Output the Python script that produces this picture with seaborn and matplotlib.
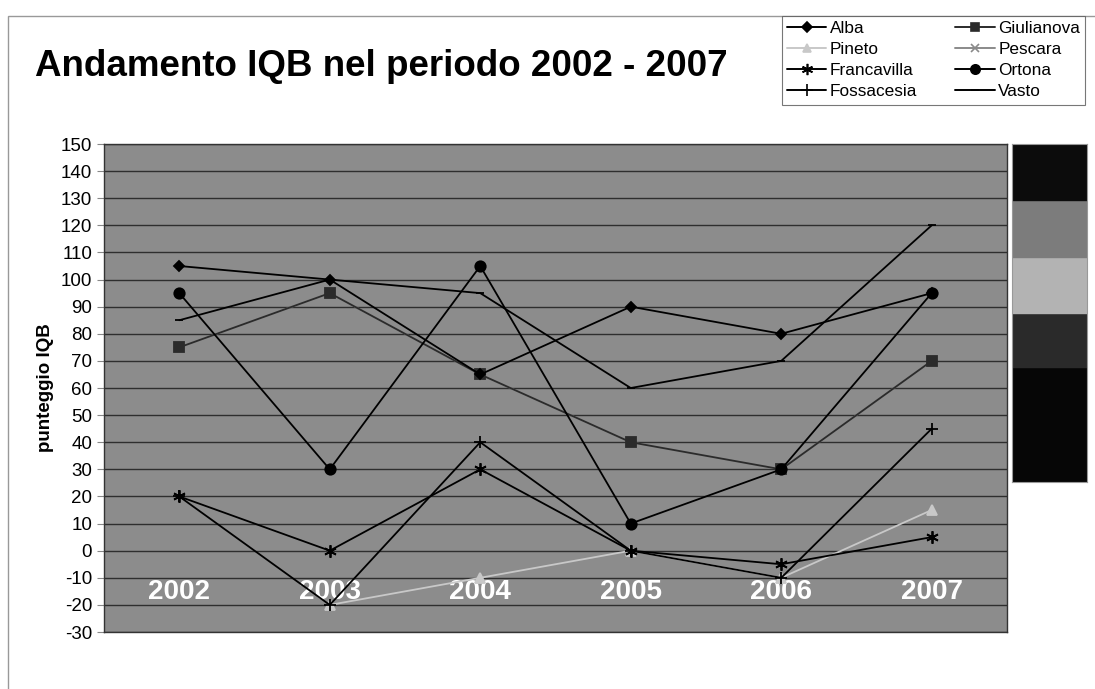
import numpy as np
import pandas as pd
import seaborn as sns
import matplotlib.pyplot as plt
from matplotlib.lines import Line2D
from matplotlib.patches import Rectangle

# valori (punteggio IQB)
years = ['2002', '2003', '2004', '2005', '2006', '2007']
alba = [105, 100, 65, 90, 80, 95]
giulianova = [75, 95, 65, 40, 30, 70]
pineto = [np.nan, -20, -10, 0, -10, 15]
pescara = [75, 95, 65, 40, 30, 70]
francavilla = [20, 0, 30, 0, -5, 5]
ortona = [95, 30, 105, 10, 30, 95]
fossacesia = [20, -20, 40, 0, -10, 45]
vasto = [85, 100, 95, 60, 70, 120]

series = {
    'Alba': alba, 'Giulianova': giulianova, 'Pineto': pineto, 'Pescara': pescara,
    'Francavilla': francavilla, 'Ortona': ortona, 'Fossacesia': fossacesia, 'Vasto': vasto,
}

colors = {
    'Alba': '#000000', 'Giulianova': '#2b2b2b', 'Pineto': '#c8c8c8', 'Pescara': '#8a8a8a',
    'Francavilla': '#000000', 'Ortona': '#000000', 'Fossacesia': '#000000', 'Vasto': '#000000',
}
markers = {
    'Alba': 'D', 'Giulianova': 's', 'Pineto': '^', 'Pescara': 'x',
    'Francavilla': (6, 2, 0), 'Ortona': 'o', 'Fossacesia': '+', 'Vasto': '_',
}
msizes = {
    'Alba': 5.5, 'Giulianova': 6.5, 'Pineto': 7, 'Pescara': 7,
    'Francavilla': 9, 'Ortona': 7.5, 'Fossacesia': 9, 'Vasto': 6,
}

df = pd.DataFrame([
    {'anno': y, 'sito': s, 'IQB': v}
    for s, vals in series.items() for y, v in zip(years, vals)
])

sns.set_style('white')
plt.rcParams['font.family'] = ['Liberation Sans', 'DejaVu Sans']
plt.rcParams['axes.unicode_minus'] = False
plt.rcParams['text.color'] = 'black'
plt.rcParams['axes.labelcolor'] = 'black'
plt.rcParams['ytick.labelcolor'] = 'black'

fig = plt.figure(figsize=(10.95, 6.89), dpi=100)
ax = fig.add_axes([0.095, 0.0827, 0.8246, 0.7083])
ax.set_facecolor('#8c8c8c')

draw_order = ['Pescara', 'Giulianova', 'Pineto', 'Fossacesia', 'Francavilla', 'Vasto', 'Alba', 'Ortona']
for s in draw_order:
    sub = df[df['sito'] == s]
    sns.lineplot(data=sub, x='anno', y='IQB', ax=ax, color=colors[s], marker=markers[s],
                 markersize=msizes[s], markeredgecolor=None, markeredgewidth=1.3,
                 linewidth=1.3, legend=False, sort=False)

ax.set_xlim(-0.5, 5.5)
ax.set_ylim(-30, 150)
ax.set_yticks(range(-30, 151, 10))
ax.yaxis.grid(True, color='#2e2e2e', linewidth=1)
ax.xaxis.grid(False)
ax.set_axisbelow(True)
for sp in ax.spines.values():
    sp.set_color('#333333')
    sp.set_linewidth(1)

ax.tick_params(axis='y', labelsize=13.5, length=5, color='#888888', direction='out',
               left=True, labelcolor='black')
ax.set_xticks(range(len(years)))
ax.set_xticklabels(years, fontsize=20, fontweight='bold', color='white')
ax.tick_params(axis='x', length=0, pad=-38)
ax.set_xlabel('')
ax.set_ylabel('punteggio IQB', fontsize=13.5, fontweight='bold', labelpad=5, color='black')

fig.text(0.032, 0.903, 'Andamento IQB nel periodo 2002 - 2007', fontsize=26.5,
         fontweight='bold', va='center', ha='left', color='black')

# legenda
leg_order = ['Alba', 'Pineto', 'Francavilla', 'Fossacesia', 'Giulianova', 'Pescara', 'Ortona', 'Vasto']
handles = [Line2D([], [], color=colors[s], marker=markers[s], markersize=msizes[s] * 0.9,
                  linewidth=1.4, markeredgewidth=1.2) for s in leg_order]
leg = fig.legend(handles, leg_order, ncol=2, loc='upper right', bbox_to_anchor=(0.999, 0.99),
                 fontsize=12.4, frameon=True, fancybox=False, edgecolor='#555555',
                 handlelength=2.3, handletextpad=0.2, columnspacing=2.2,
                 labelspacing=0.36, borderpad=0.3)
leg.get_frame().set_linewidth(0.8)
for t in leg.get_texts():
    t.set_color('black')

# barra di colori a destra
cax = fig.add_axes([0.924, 0.30, 0.069, 0.491])
bands = [(0.0, 0.34, '#060606'), (0.34, 0.50, '#2a2a2a'), (0.50, 0.665, '#b3b3b3'),
         (0.665, 0.835, '#7c7c7c'), (0.835, 1.0, '#0c0c0c')]
for lo, hi, c in bands:
    cax.axhspan(lo, hi, color=c)
cax.set_xlim(0, 1)
cax.set_ylim(0, 1)
cax.set_xticks([])
cax.set_yticks([])
for sp in cax.spines.values():
    sp.set_color('#999999')

# cornice del grafico
fig.patches.append(Rectangle((0.007, -0.01), 1.0, 0.987, transform=fig.transFigure,
                             fill=False, edgecolor='#999999', linewidth=1))

fig.savefig('out.png', dpi=100, facecolor='white')
